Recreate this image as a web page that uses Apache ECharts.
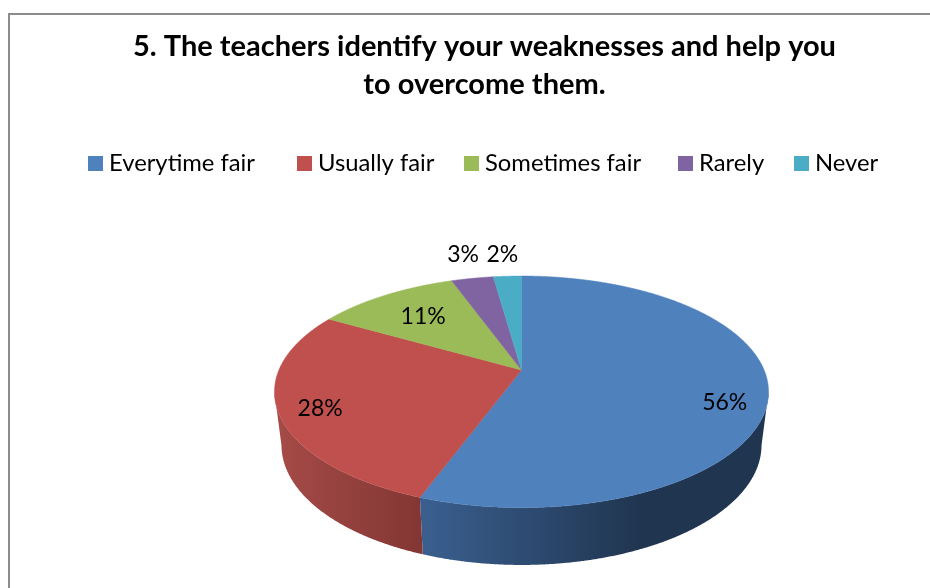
<!DOCTYPE html>
<html>
<head>
<meta charset="utf-8">
<style>html,body{margin:0;padding:0;background:#fff}#c{width:930px;height:588px}</style>
<script src="https://cdn.jsdelivr.net/npm/echarts@6/dist/echarts.min.js"></script>
</head>
<body>
<div id="c"></div>
<script>
const titleText = '5. The teachers identify your weaknesses and help you\nto overcome them.';
const categories = ['Everytime fair', 'Usually fair', 'Sometimes fair', 'Rarely', 'Never'];
const values = [55.6, 27.7, 11.2, 3.3, 2.2];
const colors = ['#4F81BD', '#C0504D', '#9BBB59', '#8064A2', '#4BACC6'];

// Side-wall shading: [gradient start x, gradient end x, stops]
const sideShades = [
  [424, 640, ['#3A5F8F', '#203550']],
  [282, 424, ['#A44A47', '#823633']],
  [0, 1, ['#6F8A40', '#6F8A40']],
  [0, 1, ['#5A4673', '#5A4673']],
  [0, 1, ['#35788C', '#35788C']]
];
// Label placement in the pie's own plane: radius fraction, degrees off the slice's mid-angle
const labelRadius = [0.84, 0.843, 0.695, 1.325, 1.295];
const labelAngleShift = [8.8, -2.3, 0, 0.8, -0.4];
const legendLeft = [88, 297, 464, 678, 794];

// Projection of the tilted disc
const geo = {
  cx: 521.5, apexY: 370, R: 242.6, S: 111.7, k: 0.1885,
  topCy: 391.85, topRx: 247, topRy: 115.85,
  lowCy: 445, lowRx: 240, lowRy: 120
};
function project(deg, rho) {
  const a = deg * Math.PI / 180;
  const u = rho * Math.sin(a), v = rho * Math.cos(a), d = 1 + geo.k * v;
  return [geo.cx + geo.R * u / d, geo.apexY - geo.S * v / d];
}
function lower(p) {
  const c = (p[0] - geo.cx) / geo.topRx, s = (p[1] - geo.topCy) / geo.topRy;
  return [geo.cx + geo.lowRx * c, geo.lowCy + geo.lowRy * s];
}

const total = values.reduce((a, b) => a + b, 0);
const starts = values.map((_, i) => values.slice(0, i).reduce((a, b) => a + b, 0));

function renderSlice(i, api) {
  const a0 = starts[i] / total * 360, a1 = (starts[i] + api.value(0)) / total * 360;
  const rim = [];
  const steps = Math.max(8, Math.ceil((a1 - a0) / 0.25));
  for (let s = 0; s <= steps; s++) rim.push(project(a0 + (a1 - a0) * s / steps, 1));
  const children = [];
  const front = rim.filter(p => p[1] >= geo.topCy);
  if (front.length > 1) {
    const sh = sideShades[i];
    children.push({
      type: 'polygon',
      shape: { points: front.concat(front.map(lower).reverse()) },
      style: {
        fill: new echarts.graphic.LinearGradient(sh[0], 0, sh[1], 0, [
          { offset: 0, color: sh[2][0] }, { offset: 1, color: sh[2][1] }
        ], true)
      }
    });
  }
  children.push({
    type: 'polygon',
    shape: { points: [[geo.cx, geo.apexY]].concat(rim) },
    style: { fill: colors[i], stroke: colors[i], lineWidth: 0.5 }
  });
  const mid = (a0 + a1) / 2 + labelAngleShift[i];
  const lp = project(mid, labelRadius[i]);
  children.push({
    type: 'text', z2: 10,
    style: {
      x: lp[0], y: lp[1] + 1, text: Math.round(api.value(0) / total * 100) + '%',
      fill: '#000', font: '23px Lato', align: 'center', verticalAlign: 'middle'
    }
  });
  return { type: 'group', children };
}

const chart = echarts.init(document.getElementById('c'), null, { renderer: 'canvas' });
chart.setOption({
  animation: false,
  color: colors,
  backgroundColor: '#fff',
  title: {
    text: titleText, left: 479.5, top: 23, textAlign: 'center',
    textStyle: { fontFamily: 'Lato', fontWeight: 'bold', fontSize: 29, lineHeight: 38, color: '#000' }
  },
  legend: categories.map((name, i) => ({
    data: [name], left: legendLeft[i], top: 151.5, itemWidth: 15, itemHeight: 15, itemGap: 0,
    icon: 'rect', padding: 0, selectedMode: false,
    textStyle: { fontFamily: 'Lato', fontSize: 23.8, color: '#000', padding: [0, 0, 0, 1] }
  })),
  graphic: [{
    type: 'rect', silent: true,
    shape: { x: 9, y: 14, width: 1000, height: 1000 },
    style: { fill: 'none', stroke: '#8c8c8c', lineWidth: 2 }
  }],
  series: categories.map((name, i) => ({
    type: 'custom', name, coordinateSystem: 'none', z: 2 + i,
    itemStyle: { color: colors[i] },
    data: [[values[i]]],
    renderItem: (params, api) => renderSlice(i, api)
  }))
});
</script>
</body>
</html>
